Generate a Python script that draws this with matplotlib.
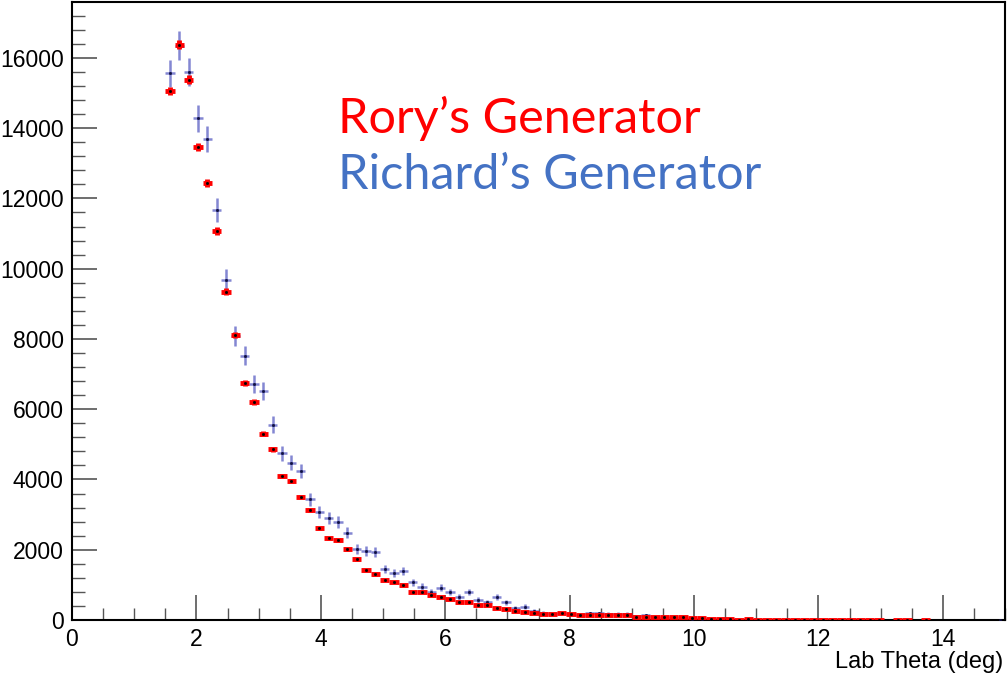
import numpy as np
import matplotlib
matplotlib.use("Agg")
import matplotlib.pyplot as plt
from matplotlib.ticker import MultipleLocator

# --- Data ---
bin_edges = np.linspace(0, 15, 101)
bin_width = bin_edges[1] - bin_edges[0]
first_bin = 10  # first filled bin, centre 1.575 deg

# Rory's generator (red), counts per bin starting at first_bin
rory_counts = [
    15060, 16370, 15380, 13460, 12450, 11070, 9350, 8110, 6750, 6210,
    5300, 4860, 4100, 3960, 3490, 3125, 2610, 2320, 2280, 2010,
    1730, 1425, 1300, 1130, 1090, 1000, 805, 805, 700, 665,
    590, 505, 505, 440, 425, 350, 305, 265, 228, 200,
    180, 160, 190, 160, 150, 150, 130, 150, 140, 130,
    95, 95, 90, 85, 80, 75, 70, 65, 20, 15,
    18, 12, 15, 10, 14, 12, 10, 12, 9, 10,
    8, 10, 7, 8, 9, 6, 8, 0, 10, 10,
    0, 8,
]

# Richard's generator (blue)
richard_counts = [
    15560, 16350, 15600, 14280, 13700, 11660, 9670, 8090, 7525, 6710,
    6510, 5560, 4745, 4480, 4240, 3435, 3065, 2910, 2800, 2490,
    2020, 1975, 1945, 1445, 1345, 1395, 1070, 950, 805, 920,
    805, 665, 790, 570, 505, 665, 505, 335, 380, 250,
    210, 160, 190, 160, 150, 190, 190, 180, 180, 180,
    110, 140, 80, 70, 90, 60, 40, 30, 20, 20,
    15, 10, 10, 10, 0, 0, 0, 0, 0, 0,
    0, 0, 0, 0, 0, 0, 0, 0, 0, 0,
    0, 0, 0, 0, 0, 0, 0, 0, 0, 5,
]

x_label = "Lab Theta (deg)"
rory_label = "Rory\u2019s Generator"
richard_label = "Richard\u2019s Generator"

centers = 0.5 * (bin_edges[:-1] + bin_edges[1:])

def filled(counts):
    c = np.array(counts, dtype=float)
    x = centers[first_bin:first_bin + len(c)]
    keep = c > 0
    return x[keep], c[keep]

rx, ry = filled(rory_counts)
bx, by = filled(richard_counts)

# --- Plot ---
plt.rcParams['font.family'] = ['Liberation Sans', 'DejaVu Sans']
fig = plt.figure(figsize=(10.07, 6.75), dpi=100)
ax = fig.add_axes([72 / 1007, 55 / 675, 933 / 1007, 618 / 675])

# blue: scaled histogram, error = sqrt(10 N)
ax.errorbar(bx, by, xerr=bin_width / 2, yerr=np.sqrt(10 * by), fmt='none',
            ecolor='#5a5fc4', elinewidth=1.8, alpha=0.75, capsize=0, zorder=2)
ax.plot(bx, by, 's', color='#101040', ms=1.0, zorder=3)

# red: raw counts, error = sqrt(N)
ax.errorbar(rx, ry, xerr=bin_width / 2, yerr=np.sqrt(ry), fmt='none',
            ecolor='#ff0000', elinewidth=3.5, capsize=0, zorder=4)
ax.plot(rx, ry, 's', color='black', ms=1.0, zorder=5)

ax.set_xlim(0, 15)
ax.set_ylim(0, 17592)

ax.xaxis.set_major_locator(MultipleLocator(2))
ax.xaxis.set_minor_locator(MultipleLocator(0.5))
ax.yaxis.set_major_locator(MultipleLocator(2000))
ax.yaxis.set_minor_locator(MultipleLocator(400))
ax.tick_params(which='both', direction='in', top=False, right=False,
               color='#555555', labelsize=16.5)
ax.tick_params(which='major', length=18, width=1.2, pad=6)
ax.tick_params(which='minor', length=9, width=1.0)
for s in ax.spines.values():
    s.set_linewidth(1.5)
    s.set_color('black')

fig.text(1003 / 1007, 1 - 668 / 675, x_label, ha='right', va='baseline',
         fontsize=17)

fig.text(338 / 1007, 1 - 133 / 675, rory_label, color='#ff0000',
         fontsize=35, family=['Lato', 'DejaVu Sans'], va='baseline')
fig.text(338 / 1007, 1 - 189 / 675, richard_label, color='#4472c4',
         fontsize=35, family=['Lato', 'DejaVu Sans'], va='baseline')

fig.savefig("out.png", dpi=100)
